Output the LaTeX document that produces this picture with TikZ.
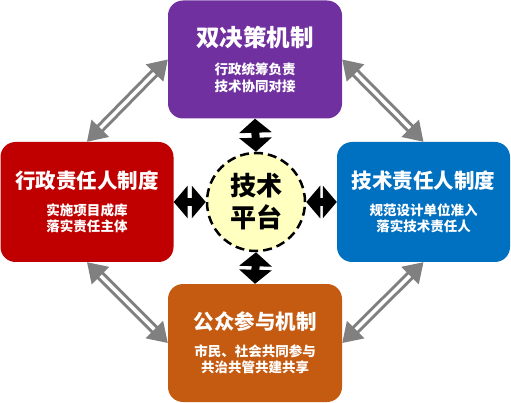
\documentclass[tikz,border=0pt]{standalone}
\usepackage{fontspec}
\newfontfamily\cjk{Noto Sans CJK SC}
\usetikzlibrary{arrows.meta, positioning}
\definecolor{dualpurple}{RGB}{112, 48, 160}
\definecolor{admred}{RGB}{192, 0, 0}
\definecolor{techblue}{RGB}{0, 112, 192}
\definecolor{publicbrown}{RGB}{197, 90, 17}
\definecolor{platyellow}{RGB}{255, 255, 192}
\definecolor{linkgray}{RGB}{128, 128, 128}

\begin{document}
\begin{tikzpicture}[x=1pt, y=-1pt,
  mechbox/.style={rounded corners=15pt, minimum width=174pt, minimum height=118pt,
    inner sep=0pt, align=center, text=white,
    font=\cjk\bfseries\fontsize{13.5}{16.5}\selectfont},
  linkarrow/.style={draw=linkgray, line width=3pt, double=white, double distance=3.5pt,
    {Triangle[width=24pt, length=19pt]}-{Triangle[width=24pt, length=19pt]}},
  hubarrow/.style={draw=black, line width=8pt,
    {Triangle[width=32pt, length=14pt]}-{Triangle[width=32pt, length=14pt]}},
]
\useasboundingbox (0,0) rectangle (511,403);

% Four mechanisms
\node[mechbox, fill=dualpurple] (dual) at (255,59.5)
{{\fontsize{23.5}{28}\selectfont 双决策机制}\\[12pt]
 行政统筹负责\\技术协同对接};
\node[mechbox, fill=admred, minimum width=173pt, minimum height=120pt] (adm) at (87,202)
{{\fontsize{20.5}{24}\selectfont 行政责任人制度}\\[10pt]
 实施项目成库\\落实责任主体};
\node[mechbox, fill=techblue, minimum width=173pt, minimum height=120pt] (tech) at (423.5,202)
{{\fontsize{20.5}{24}\selectfont 技术责任人制度}\\[10pt]
 规范设计单位准入\\落实技术责任人};
\node[mechbox, fill=publicbrown] (public) at (255,343)
{{\fontsize{20.5}{24}\selectfont 公众参与机制}\\[10pt]
 市民、社会共同参与\\共治共管共建共享};

% Technical platform
\node[circle, draw=black, line width=2.5pt, dash pattern=on 9pt off 5pt, fill=platyellow,
      minimum size=98pt, inner sep=0pt, align=center,
      font=\cjk\bfseries\fontsize{26}{32}\selectfont] (plat) at (256,202)
{技术\\平台};

% Links between mechanisms
\draw[linkarrow] (adm.north) -- (dual.west);
\draw[linkarrow] (dual.east) -- (tech.north);
\draw[linkarrow] (adm.south) -- (public.west);
\draw[linkarrow] (public.east) -- (tech.south);

% Links to the platform
\draw[hubarrow] (dual.south) -- (plat.north);
\draw[hubarrow] (adm.east) -- (plat.west);
\draw[hubarrow] (plat.east) -- (tech.west);
\draw[hubarrow] (plat.south) -- (public.north);
\end{tikzpicture}
\end{document}
